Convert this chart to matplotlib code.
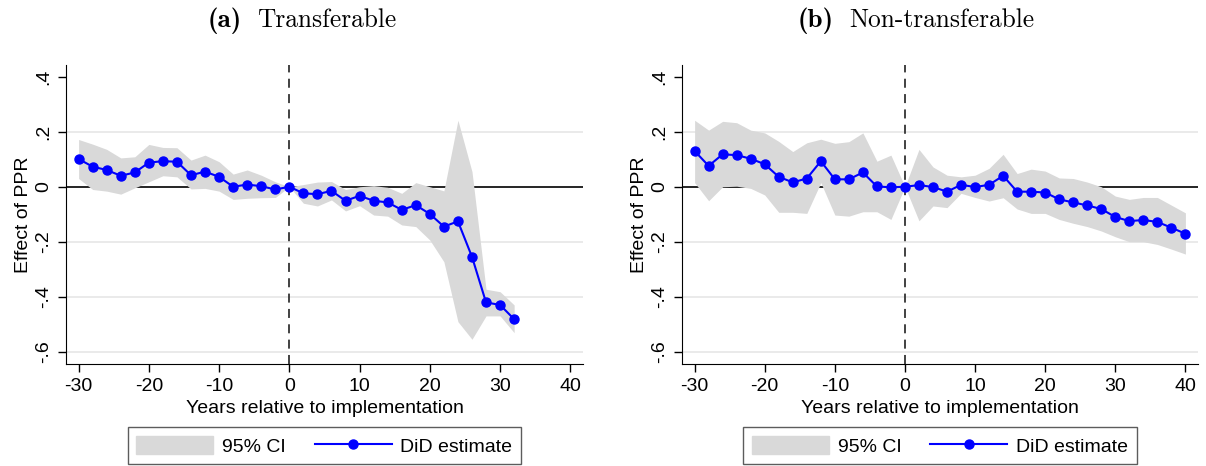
import numpy as np
import matplotlib
matplotlib.use('Agg')
import matplotlib.pyplot as plt
import matplotlib.patches as mpatches
from matplotlib.lines import Line2D

##===========================================
# Data
##===========================================
years_a = [-30, -28, -26, -24, -22, -20, -18, -16, -14, -12, -10, -8, -6, -4, -2, 0,
           2, 4, 6, 8, 10, 12, 14, 16, 18, 20, 22, 24, 26, 28, 30, 32]
est_a = [0.101, 0.073, 0.061, 0.040, 0.052, 0.088, 0.093, 0.091, 0.042, 0.055, 0.036,
         0.000, 0.008, 0.002, -0.010, 0.000, -0.024, -0.027, -0.015, -0.051, -0.033,
         -0.051, -0.057, -0.084, -0.067, -0.099, -0.145, -0.126, -0.255, -0.421, -0.430, -0.482]
hi_a = [0.172, 0.155, 0.136, 0.105, 0.109, 0.154, 0.143, 0.142, 0.097, 0.115, 0.091,
        0.046, 0.061, 0.042, 0.018, 0.000, 0.008, 0.017, 0.019, -0.010, 0.000,
        0.004, -0.002, -0.024, 0.015, 0.000, -0.015, 0.242, 0.055, -0.373, -0.382, -0.430]
lo_a = [0.030, -0.010, -0.016, -0.027, -0.004, 0.018, 0.040, 0.036, -0.008, -0.006, -0.016,
        -0.046, -0.042, -0.040, -0.039, 0.000, -0.060, -0.070, -0.048, -0.088, -0.069,
        -0.103, -0.107, -0.139, -0.145, -0.194, -0.273, -0.491, -0.555, -0.470, -0.470, -0.531]

years_b = [-30, -28, -26, -24, -22, -20, -18, -16, -14, -12, -10, -8, -6, -4, -2, 0,
           2, 4, 6, 8, 10, 12, 14, 16, 18, 20, 22, 24, 26, 28, 30, 32, 34, 36, 38, 40]
est_b = [0.130, 0.076, 0.118, 0.115, 0.102, 0.082, 0.036, 0.016, 0.030, 0.093, 0.027,
         0.027, 0.052, 0.001, -0.002, 0.000, 0.006, -0.001, -0.018, 0.007, -0.001,
         0.007, 0.040, -0.018, -0.018, -0.021, -0.046, -0.057, -0.068, -0.081, -0.110,
         -0.125, -0.121, -0.128, -0.149, -0.171]
hi_b = [0.242, 0.206, 0.238, 0.233, 0.206, 0.196, 0.165, 0.128, 0.160, 0.173, 0.158,
        0.164, 0.196, 0.093, 0.115, 0.000, 0.136, 0.072, 0.042, 0.036, 0.042,
        0.067, 0.118, 0.048, 0.064, 0.057, 0.032, 0.030, 0.017, 0.000, -0.034,
        -0.046, -0.039, -0.039, -0.067, -0.095]
lo_b = [0.015, -0.051, 0.000, 0.002, -0.006, -0.030, -0.093, -0.093, -0.097, 0.015, -0.103,
        -0.107, -0.091, -0.091, -0.119, 0.000, -0.124, -0.070, -0.076, -0.024, -0.039,
        -0.052, -0.040, -0.081, -0.097, -0.097, -0.119, -0.133, -0.145, -0.161, -0.182,
        -0.200, -0.200, -0.210, -0.227, -0.245]

xticks = [-30, -20, -10, 0, 10, 20, 30, 40]
yticks = [-0.6, -0.4, -0.2, 0, 0.2, 0.4]
ytick_labels = ['-.6', '-.4', '-.2', '0', '.2', '.4']
grid_y = [-0.6, -0.4, -0.2, 0.2]
panel_tags = ['(a)', '(b)']
panel_names = ['Transferable', 'Non-transferable']

##===========================================
# Style
##===========================================
plt.rcParams.update({'font.family': 'Liberation Sans',
                     'font.size': 14,
                     'axes.unicode_minus': False})

ci_c = '#d9d9d9'
did_c = '#0000ff'

fig = plt.figure(figsize=(12.06, 4.66), dpi=100)
ax1 = fig.add_axes([0.0547, 0.2189, 0.4287, 0.6416])
ax2 = fig.add_axes([0.5655, 0.2189, 0.4279, 0.6416])

panels = [(ax1, years_a, est_a, hi_a, lo_a), (ax2, years_b, est_b, hi_b, lo_b)]
# x (px) where the bold tag ends / the caption starts
tag_x = [242, 834]
name_x = [257, 849]

for i, (ax, x, y, hi, lo) in enumerate(panels):
    for yt in grid_y:
        ax.axhline(yt, color='#e6e6e6', lw=1.2, zorder=0)
    ax.axhline(0, color='black', lw=1.2, zorder=1)
    ax.fill_between(x, lo, hi, color=ci_c, lw=0, zorder=2)
    ax.axvline(0, color='#333333', lw=1.3, ls=(0, (5, 3.5)), zorder=3)
    ax.plot(x, y, '-o', color=did_c, lw=1.5, ms=6.5, zorder=4)

    ax.set_xlim(-31.8, 41.8)
    ax.set_ylim(-0.645, 0.443)
    ax.set_xticks(xticks)
    ax.set_yticks(yticks)
    ax.set_yticklabels(ytick_labels, rotation=90, va='center')
    ax.tick_params(direction='out', length=6, width=1, pad=4, labelsize=14)
    for s in ['top', 'right']:
        ax.spines[s].set_visible(False)
    ax.set_xlabel('Years relative to implementation', fontsize=14, labelpad=4)
    ax.set_ylabel('Effect of PPR', fontsize=14, labelpad=2.5)

    # subfigure caption: bold tag + roman text
    fig.text(tag_x[i] / 1206, 1 - 27 / 466, panel_tags[i], fontfamily='cmb10',
             fontsize=19.5, ha='right', va='baseline')
    fig.text(name_x[i] / 1206, 1 - 27 / 466, panel_names[i], fontfamily='cmr10',
             fontsize=18.3, ha='left', va='baseline')

    handles = [mpatches.Patch(color=ci_c, label='95% CI'),
               Line2D([], [], color=did_c, lw=1.5, marker='o', ms=6.5, label='DiD estimate')]
    leg = ax.legend(handles=handles, loc='center', bbox_to_anchor=(0.5, -0.274), ncol=2,
                    frameon=True, fancybox=False, edgecolor='#333333', fontsize=14,
                    handlelength=3.95, handleheight=1.0, handletextpad=0.45,
                    columnspacing=1.5, borderpad=0.45, numpoints=1)
    leg.get_frame().set_linewidth(1)

plt.savefig('out.png', dpi=100)
